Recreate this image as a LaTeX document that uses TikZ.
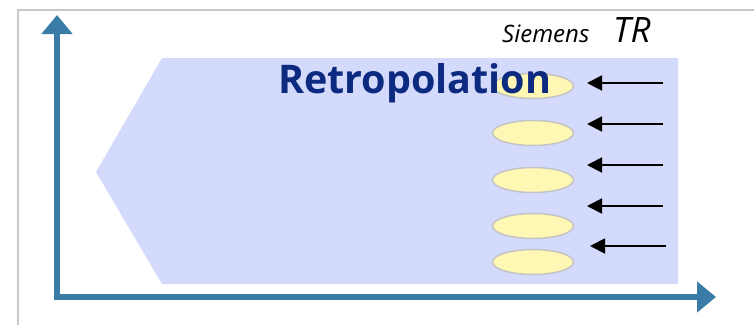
\documentclass[tikz,border=0pt]{standalone}
\usepackage{fontspec}
\setmainfont{Open Sans}
\usetikzlibrary{arrows.meta,shapes.geometric}
\definecolor{axisblue}{HTML}{3A7CA8}
\definecolor{bandblue}{HTML}{D4DAFB}
\definecolor{titlenavy}{HTML}{0B2A80}
\definecolor{capyellow}{HTML}{FFF8B4}
\definecolor{capedge}{HTML}{C4C4C4}
\definecolor{framegrey}{HTML}{C8C8C8}
\tikzset{
  axis/.style={draw=axisblue, line width=6pt, -{Triangle[length=19pt,width=30pt]}},
  feed/.style={draw=black, line width=1.9pt, -{Triangle[length=15pt,width=15pt]}},
  capsule/.style={ellipse, draw=capedge, line width=1.5pt, fill=capyellow,
              minimum width=81pt, minimum height=25pt, inner sep=0pt},
}
\begin{document}
\begin{tikzpicture}[x=1pt, y=-1pt]
  % canvas
  \useasboundingbox (0,0) rectangle (754,325);
  \fill[white] (0,0) rectangle (754,325);
  % frame edges
  \draw[framegrey, line width=2pt] (18,325) -- (18,10) -- (754,10);
  % shaded band
  \fill[bandblue] (162,58) -- (678,58) -- (678,284) -- (162,284) -- (96,172) -- cycle;
  % axes
  \coordinate (origin) at (57,297);
  \coordinate (ytop) at (57,15);
  \coordinate (xstart) at (54,297);
  \coordinate (xend) at (716,297);
  \draw[axis] (57,300) -- (ytop);
  \draw[axis] (xstart) -- (xend);
  % capsules
  \node[capsule] (c1) at (533,86) {};
  \node[capsule] (c2) at (533,133) {};
  \node[capsule] (c3) at (533,180) {};
  \node[capsule] (c4) at (533,226) {};
  \node[capsule] (c5) at (533,262) {};
  % title
  \node[anchor=base west, inner sep=0pt, text=titlenavy, font=\fontsize{39.5}{42}\selectfont\bfseries]
    (title) at (278,93) {Retropolation};
  % labels
  \node[anchor=base west, inner sep=0pt, font=\fontsize{24}{26}\selectfont\itshape] (siemens) at (502,42) {Siemens};
  \node[anchor=base west, inner sep=0pt, font=\fontsize{35}{38}\selectfont\itshape] (tr) at (613,42) {TR};
  % incoming arrows
  \foreach \i/\y/\xs/\xe in {1/83/663/587, 2/124/663/587, 3/165/663/587, 4/206/663/587, 5/246/666/590} {
    \coordinate (s\i) at (\xs,\y);
    \coordinate (e\i) at (\xe,\y);
    \draw[feed] (s\i) -- (e\i);
  }
\end{tikzpicture}
\end{document}
